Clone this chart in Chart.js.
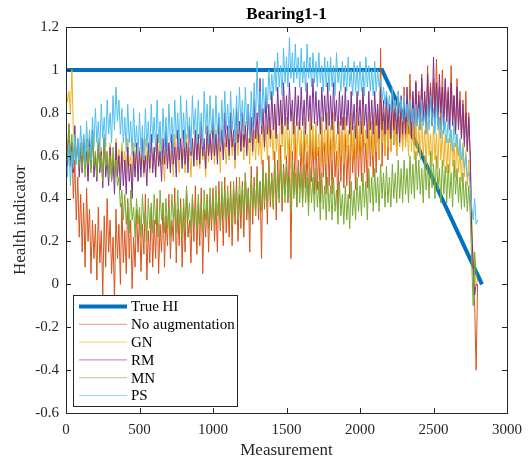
<!DOCTYPE html>
<html>
<head>
<meta charset="utf-8">
<title>Bearing1-1</title>
<script src="https://cdn.jsdelivr.net/npm/chart.js@4/dist/chart.umd.min.js"></script>
<style>
html, body { margin: 0; padding: 0; background: #fff; }
#wrap { width: 532px; height: 464px; }
</style>
</head>
<body>
<div id="wrap"><canvas id="hiChart" width="532" height="464"></canvas></div>
<script>
// x values (measurement index), read every 10 measurements
const measurement = [
    0, 10, 20, 30, 40, 50, 60, 70, 80, 90,
    100, 110, 120, 130, 140, 150, 160, 170, 180, 190,
    200, 210, 220, 230, 240, 250, 260, 270, 280, 290,
    300, 310, 320, 330, 340, 350, 360, 370, 380, 390,
    400, 410, 420, 430, 440, 450, 460, 470, 480, 490,
    500, 510, 520, 530, 540, 550, 560, 570, 580, 590,
    600, 610, 620, 630, 640, 650, 660, 670, 680, 690,
    700, 710, 720, 730, 740, 750, 760, 770, 780, 790,
    800, 810, 820, 830, 840, 850, 860, 870, 880, 890,
    900, 910, 920, 930, 940, 950, 960, 970, 980, 990,
    1000, 1010, 1020, 1030, 1040, 1050, 1060, 1070, 1080, 1090,
    1100, 1110, 1120, 1130, 1140, 1150, 1160, 1170, 1180, 1190,
    1200, 1210, 1220, 1230, 1240, 1250, 1260, 1270, 1280, 1290,
    1300, 1310, 1320, 1330, 1340, 1350, 1360, 1370, 1380, 1390,
    1400, 1410, 1420, 1430, 1440, 1450, 1460, 1470, 1480, 1490,
    1500, 1510, 1520, 1530, 1540, 1550, 1560, 1570, 1580, 1590,
    1600, 1610, 1620, 1630, 1640, 1650, 1660, 1670, 1680, 1690,
    1700, 1710, 1720, 1730, 1740, 1750, 1760, 1770, 1780, 1790,
    1800, 1810, 1820, 1830, 1840, 1850, 1860, 1870, 1880, 1890,
    1900, 1910, 1920, 1930, 1940, 1950, 1960, 1970, 1980, 1990,
    2000, 2010, 2020, 2030, 2040, 2050, 2060, 2070, 2080, 2090,
    2100, 2110, 2120, 2130, 2140, 2150, 2160, 2170, 2180, 2190,
    2200, 2210, 2220, 2230, 2240, 2250, 2260, 2270, 2280, 2290,
    2300, 2310, 2320, 2330, 2340, 2350, 2360, 2370, 2380, 2390,
    2400, 2410, 2420, 2430, 2440, 2450, 2460, 2470, 2480, 2490,
    2500, 2510, 2520, 2530, 2540, 2550, 2560, 2570, 2580, 2590,
    2600, 2610, 2620, 2630, 2640, 2650, 2660, 2670, 2680, 2690,
    2700, 2710, 2720, 2730, 2740, 2750, 2760, 2770, 2780, 2790,
    2800
];

// true health indicator (piecewise line)
const trueX = [0, 2150, 2830];
const trueY = [1, 1, 0];

const noAug = [
    0.70, 0.62, 0.75, 0.55, 0.66, 0.40, 0.58, 0.30, 0.50, 0.22,
    0.42, 0.15, 0.38, 0.08, 0.45, 0.20, 0.35, 0.05, 0.30, 0.12,
    0.28, 0.02, 0.36, 0.10, 0.25, -0.05, 0.32, 0.08, 0.40, 0.15,
    0.30, 0.05, 0.22, -0.08, 0.35, 0.12, 0.28, 0.00, 0.38, 0.10,
    0.25, 0.05, 0.40, 0.12, 0.30, -0.02, 0.22, 0.08, 0.35, 0.15,
    0.32, 0.06, 0.28, 0.14, 0.42, 0.02, 0.25, 0.10, 0.36, 0.08,
    0.30, 0.12, 0.40, 0.05, 0.28, 0.15, 0.38, 0.08, 0.32, 0.18,
    0.42, 0.12, 0.30, 0.20, 0.45, 0.10, 0.35, 0.18, 0.40, 0.08,
    0.36, 0.15, 0.44, 0.22, 0.30, 0.10, 0.40, 0.20, 0.46, 0.14,
    0.38, 0.18, 0.45, 0.05, 0.35, 0.22, 0.42, 0.15, 0.40, 0.25,
    0.45, 0.20, 0.38, 0.15, 0.48, 0.25, 0.42, 0.18, 0.50, 0.24,
    0.40, 0.22, 0.48, 0.18, 0.44, 0.28, 0.50, 0.20, 0.42, 0.26,
    0.48, 0.22, 0.52, 0.30, 0.45, 0.15, 0.55, 0.28, 0.50, 0.32,
    0.55, 0.30, 0.48, 0.12, 0.58, 0.35, 0.52, 0.28, 0.60, 0.36,
    0.52, 0.35, 0.62, 0.30, 0.58, 0.40, 0.65, 0.34, 0.56, 0.42,
    0.60, 0.38, 0.68, 0.12, 0.62, 0.42, 0.70, 0.36, 0.58, 0.45,
    0.66, 0.40, 0.72, 0.45, 0.62, 0.38, 0.75, 0.48, 0.68, 0.42,
    0.70, 0.44, 0.64, 0.38, 0.74, 0.50, 0.66, 0.42, 0.72, 0.46,
    0.68, 0.42, 0.76, 0.50, 0.62, 0.35, 0.72, 0.48, 0.78, 0.45,
    0.70, 0.46, 0.65, 0.40, 0.76, 0.52, 0.68, 0.44, 0.74, 0.50,
    0.72, 0.48, 0.78, 0.52, 0.66, 0.45, 0.80, 0.55, 0.70, 0.50,
    0.76, 0.52, 0.82, 0.58, 1.10, 0.55, 0.80, 0.60, 0.85, 0.58,
    0.82, 0.62, 0.88, 0.65, 0.80, 0.60, 0.90, 0.68, 0.85, 0.64,
    0.92, 0.66, 0.86, 0.70, 0.98, 0.72, 0.88, 0.65, 0.95, 0.74,
    0.90, 0.72, 0.98, 0.76, 0.88, 0.70, 1.02, 0.78, 0.94, 0.74,
    0.96, 0.75, 1.05, 0.80, 0.92, 0.72, 1.00, 0.78, 0.95, 0.76,
    0.92, 0.72, 1.02, 0.76, 0.88, 0.70, 0.96, 0.74, 0.90, 0.68,
    0.86, 0.64, 0.90, 0.62, 0.80, 0.58, 0.25, 0.05, -0.10, -0.40,
    0.00
];

const gn = [
    0.92, 0.85, 0.90, 0.80, 1.00, 0.72, 0.65, 0.58, 0.66, 0.55,
    0.64, 0.54, 0.68, 0.56, 0.62, 0.50, 0.66, 0.58, 0.70, 0.55,
    0.62, 0.52, 0.68, 0.56, 0.64, 0.50, 0.70, 0.58, 0.62, 0.54,
    0.66, 0.55, 0.60, 0.50, 0.68, 0.56, 0.63, 0.52, 0.66, 0.57,
    0.62, 0.52, 0.68, 0.55, 0.60, 0.48, 0.66, 0.56, 0.63, 0.52,
    0.64, 0.54, 0.60, 0.50, 0.68, 0.56, 0.62, 0.52, 0.66, 0.58,
    0.62, 0.50, 0.66, 0.55, 0.70, 0.56, 0.60, 0.48, 0.64, 0.55,
    0.66, 0.54, 0.62, 0.50, 0.70, 0.58, 0.64, 0.52, 0.68, 0.56,
    0.63, 0.52, 0.70, 0.58, 0.64, 0.50, 0.68, 0.56, 0.72, 0.55,
    0.66, 0.54, 0.70, 0.58, 0.62, 0.50, 0.68, 0.57, 0.72, 0.60,
    0.66, 0.56, 0.72, 0.58, 0.68, 0.52, 0.74, 0.60, 0.66, 0.56,
    0.70, 0.58, 0.74, 0.60, 0.68, 0.54, 0.72, 0.60, 0.76, 0.62,
    0.70, 0.58, 0.76, 0.62, 0.68, 0.56, 0.78, 0.60, 0.72, 0.58,
    0.76, 0.60, 0.70, 0.56, 0.80, 0.62, 0.74, 0.58, 0.78, 0.64,
    0.72, 0.58, 0.82, 0.62, 0.70, 0.55, 0.86, 0.64, 0.74, 0.58,
    0.78, 0.60, 0.72, 0.54, 0.80, 0.62, 0.74, 0.58, 0.76, 0.60,
    0.72, 0.56, 0.78, 0.62, 0.70, 0.54, 0.80, 0.60, 0.74, 0.58,
    0.76, 0.60, 0.70, 0.55, 0.78, 0.62, 0.72, 0.56, 0.80, 0.60,
    0.74, 0.58, 0.80, 0.62, 0.70, 0.54, 0.76, 0.60, 0.72, 0.56,
    0.78, 0.62, 0.72, 0.56, 0.80, 0.60, 0.74, 0.58, 0.82, 0.62,
    0.76, 0.60, 0.82, 0.64, 0.72, 0.58, 0.80, 0.62, 0.76, 0.60,
    0.80, 0.62, 0.74, 0.58, 0.82, 0.66, 0.76, 0.60, 0.84, 0.64,
    0.78, 0.62, 0.84, 0.66, 0.76, 0.60, 0.82, 0.64, 0.78, 0.62,
    0.82, 0.64, 0.76, 0.60, 0.80, 0.62, 0.74, 0.58, 0.78, 0.60,
    0.74, 0.58, 0.78, 0.60, 0.72, 0.56, 0.76, 0.60, 0.70, 0.55,
    0.74, 0.58, 0.70, 0.54, 0.76, 0.58, 0.72, 0.55, 0.70, 0.52,
    0.68, 0.52, 0.72, 0.55, 0.66, 0.50, 0.70, 0.52, 0.64, 0.48,
    0.66, 0.50, 0.62, 0.46, 0.58, 0.44, 0.30, 0.10, 0.05, 0.00,
    0.02
];

const rm = [
    0.62, 0.55, 0.72, 0.58, 0.66, 0.52, 0.74, 0.56, 0.68, 0.50,
    0.64, 0.52, 0.70, 0.55, 0.62, 0.48, 0.68, 0.54, 0.72, 0.50,
    0.60, 0.48, 0.66, 0.52, 0.62, 0.45, 0.68, 0.50, 0.58, 0.46,
    0.64, 0.48, 0.58, 0.42, 0.66, 0.50, 0.60, 0.44, 0.62, 0.46,
    0.58, 0.42, 0.64, 0.48, 0.56, 0.40, 0.62, 0.50, 0.66, 0.48,
    0.62, 0.50, 0.68, 0.52, 0.60, 0.46, 0.66, 0.54, 0.70, 0.52,
    0.64, 0.50, 0.70, 0.55, 0.62, 0.48, 0.68, 0.56, 0.72, 0.54,
    0.66, 0.52, 0.70, 0.56, 0.64, 0.50, 0.72, 0.58, 0.68, 0.54,
    0.72, 0.56, 0.66, 0.52, 0.74, 0.60, 0.68, 0.55, 0.72, 0.58,
    0.70, 0.56, 0.76, 0.60, 0.68, 0.54, 0.74, 0.60, 0.70, 0.58,
    0.76, 0.60, 0.70, 0.56, 0.78, 0.62, 0.72, 0.58, 0.80, 0.64,
    0.74, 0.60, 0.80, 0.64, 0.72, 0.58, 0.82, 0.66, 0.76, 0.62,
    0.80, 0.64, 0.74, 0.60, 0.84, 0.66, 0.78, 0.62, 0.86, 0.68,
    0.80, 0.66, 0.96, 0.70, 0.82, 0.64, 0.88, 0.70, 0.84, 0.68,
    0.90, 0.72, 0.84, 0.68, 0.92, 0.74, 0.86, 0.70, 0.94, 0.74,
    0.88, 0.72, 0.94, 0.76, 0.86, 0.70, 0.92, 0.74, 0.88, 0.72,
    0.92, 0.74, 0.86, 0.70, 0.94, 0.76, 0.88, 0.72, 0.96, 0.75,
    0.90, 0.74, 0.86, 0.70, 0.92, 0.76, 0.88, 0.72, 0.94, 0.74,
    0.88, 0.72, 0.94, 0.76, 0.86, 0.70, 0.90, 0.74, 0.88, 0.72,
    0.92, 0.74, 0.86, 0.70, 0.90, 0.72, 0.84, 0.68, 0.90, 0.74,
    0.86, 0.70, 0.92, 0.74, 0.84, 0.68, 0.90, 0.72, 0.86, 0.70,
    0.90, 0.74, 0.84, 0.68, 0.92, 0.72, 0.86, 0.70, 0.88, 0.72,
    0.84, 0.68, 0.90, 0.72, 0.86, 0.70, 0.82, 0.66, 0.88, 0.70,
    0.86, 0.70, 0.92, 0.74, 0.84, 0.68, 0.90, 0.72, 0.94, 0.74,
    0.88, 0.72, 0.96, 0.76, 0.90, 0.74, 0.98, 0.78, 0.92, 0.74,
    1.06, 0.78, 0.94, 0.74, 0.98, 0.80, 0.92, 0.72, 0.96, 0.76,
    0.90, 0.72, 0.94, 0.74, 0.88, 0.70, 0.92, 0.72, 0.86, 0.68,
    0.84, 0.66, 0.80, 0.62, 0.78, 0.60, 0.25, 0.10, -0.05, 0.00,
    0.00
];

const mn = [
    0.66, 0.58, 0.74, 0.60, 0.70, 0.56, 0.68, 0.58, 0.64, 0.55,
    0.66, 0.54, 0.62, 0.50, 0.68, 0.56, 0.64, 0.52, 0.70, 0.55,
    0.62, 0.50, 0.66, 0.54, 0.60, 0.48, 0.68, 0.55, 0.62, 0.50,
    0.60, 0.48, 0.64, 0.52, 0.58, 0.46, 0.50, 0.36, 0.44, 0.30,
    0.42, 0.28, 0.38, 0.24, 0.44, 0.30, 0.36, 0.22, 0.40, 0.28,
    0.36, 0.22, 0.42, 0.28, 0.34, 0.20, 0.40, 0.26, 0.38, 0.24,
    0.42, 0.28, 0.36, 0.22, 0.44, 0.30, 0.38, 0.24, 0.40, 0.26,
    0.36, 0.22, 0.42, 0.30, 0.38, 0.24, 0.44, 0.28, 0.36, 0.22,
    0.40, 0.26, 0.46, 0.30, 0.38, 0.24, 0.42, 0.28, 0.36, 0.25,
    0.42, 0.28, 0.38, 0.24, 0.44, 0.30, 0.40, 0.26, 0.45, 0.30,
    0.40, 0.28, 0.46, 0.32, 0.42, 0.26, 0.48, 0.32, 0.44, 0.30,
    0.46, 0.32, 0.42, 0.28, 0.48, 0.34, 0.44, 0.30, 0.50, 0.34,
    0.46, 0.32, 0.52, 0.36, 0.44, 0.30, 0.50, 0.36, 0.46, 0.32,
    0.52, 0.36, 0.48, 0.34, 0.54, 0.38, 0.50, 0.35, 0.56, 0.40,
    0.50, 0.36, 0.56, 0.40, 0.52, 0.38, 0.58, 0.40, 0.54, 0.38,
    0.56, 0.40, 0.50, 0.34, 0.58, 0.40, 0.52, 0.36, 0.55, 0.38,
    0.52, 0.36, 0.56, 0.38, 0.50, 0.32, 0.54, 0.38, 0.50, 0.34,
    0.54, 0.36, 0.48, 0.30, 0.52, 0.35, 0.46, 0.30, 0.50, 0.34,
    0.46, 0.30, 0.50, 0.34, 0.44, 0.28, 0.48, 0.32, 0.42, 0.28,
    0.46, 0.30, 0.42, 0.26, 0.48, 0.32, 0.44, 0.30, 0.50, 0.34,
    0.46, 0.32, 0.52, 0.36, 0.48, 0.30, 0.54, 0.38, 0.50, 0.34,
    0.54, 0.38, 0.50, 0.34, 0.56, 0.40, 0.52, 0.36, 0.55, 0.38,
    0.50, 0.36, 0.56, 0.40, 0.52, 0.38, 0.58, 0.40, 0.54, 0.38,
    0.58, 0.42, 0.54, 0.38, 0.60, 0.42, 0.56, 0.40, 0.62, 0.44,
    0.58, 0.42, 0.54, 0.38, 0.60, 0.44, 0.56, 0.40, 0.62, 0.45,
    0.56, 0.40, 0.60, 0.44, 0.54, 0.38, 0.58, 0.42, 0.55, 0.38,
    0.56, 0.40, 0.52, 0.36, 0.58, 0.42, 0.54, 0.38, 0.50, 0.35,
    0.52, 0.36, 0.48, 0.34, 0.46, 0.32, 0.10, -0.10, 0.15, 0.05,
    0.02
];

const ps = [
    0.60, 0.50, 0.66, 0.46, 0.62, 0.54, 0.70, 0.56, 0.68, 0.58,
    0.74, 0.60, 0.70, 0.56, 0.76, 0.62, 0.72, 0.58, 0.78, 0.64,
    0.82, 0.66, 0.76, 0.62, 0.84, 0.68, 0.78, 0.64, 0.86, 0.70,
    0.80, 0.66, 0.88, 0.72, 0.92, 0.76, 0.86, 0.70, 0.82, 0.66,
    0.78, 0.62, 0.84, 0.66, 0.76, 0.60, 0.82, 0.64, 0.74, 0.60,
    0.80, 0.62, 0.74, 0.58, 0.82, 0.64, 0.76, 0.60, 0.84, 0.66,
    0.78, 0.62, 0.86, 0.66, 0.76, 0.60, 0.82, 0.64, 0.78, 0.62,
    0.84, 0.66, 0.78, 0.62, 0.86, 0.68, 0.80, 0.64, 0.88, 0.68,
    0.80, 0.64, 0.86, 0.68, 0.78, 0.62, 0.88, 0.70, 0.82, 0.66,
    0.86, 0.68, 0.80, 0.64, 0.90, 0.70, 0.84, 0.66, 0.88, 0.70,
    0.82, 0.66, 0.88, 0.70, 0.80, 0.64, 0.86, 0.68, 0.90, 0.72,
    0.84, 0.68, 0.90, 0.72, 0.82, 0.66, 0.88, 0.70, 0.92, 0.74,
    0.86, 0.70, 0.92, 0.74, 0.84, 0.68, 0.90, 0.72, 0.94, 0.76,
    1.04, 0.78, 0.90, 0.74, 0.96, 0.80, 0.92, 0.82, 1.00, 0.86,
    0.98, 0.88, 1.04, 0.90, 1.08, 0.92, 1.02, 0.88, 1.10, 0.94,
    1.06, 0.92, 1.15, 0.96, 1.08, 0.94, 1.12, 0.96, 1.06, 0.92,
    1.10, 0.94, 1.04, 0.90, 1.12, 0.96, 1.06, 0.92, 1.08, 0.94,
    1.04, 0.92, 1.08, 0.94, 1.02, 0.90, 1.06, 0.92, 1.04, 0.90,
    1.06, 0.92, 1.02, 0.88, 1.08, 0.94, 1.00, 0.90, 1.04, 0.92,
    1.02, 0.90, 1.06, 0.92, 1.00, 0.88, 1.04, 0.90, 1.02, 0.88,
    1.04, 0.90, 1.00, 0.88, 1.06, 0.92, 1.02, 0.90, 1.00, 0.88,
    1.04, 0.90, 1.00, 0.92, 0.96, 0.86, 0.92, 0.84, 0.90, 0.82,
    0.88, 0.80, 0.92, 0.82, 0.86, 0.78, 0.90, 0.80, 0.86, 0.76,
    0.88, 0.78, 0.84, 0.74, 0.86, 0.76, 0.82, 0.72, 0.84, 0.74,
    0.82, 0.72, 0.86, 0.74, 0.80, 0.70, 0.84, 0.72, 0.88, 0.74,
    0.82, 0.70, 0.86, 0.72, 0.78, 0.68, 0.82, 0.70, 0.76, 0.66,
    0.78, 0.66, 0.72, 0.62, 0.76, 0.64, 0.70, 0.60, 0.68, 0.58,
    0.64, 0.54, 0.60, 0.50, 0.52, 0.46, 0.36, 0.30, 0.40, 0.28,
    0.30
];

const seriesNames = ['True HI', 'No augmentation', 'GN', 'RM', 'MN', 'PS'];
const chartTitle = 'Bearing1-1';

const serif = '"Liberation Serif", "Times New Roman", serif';
const axisColor = '#262626';

function toPoints(xs, ys) {
    return ys.map((y, i) => ({ x: xs[i], y: y }));
}

function noisyLine(label, ys, rgb, order) {
    return {
        label: label,
        data: toPoints(measurement, ys),
        borderColor: 'rgb(' + rgb + ')',
        legendColor: 'rgba(' + rgb + ',0.6)',
        borderWidth: 1,
        pointRadius: 0,
        tension: 0,
        order: order
    };
}

const datasets = [
    {
        label: seriesNames[0],
        data: toPoints(trueX, trueY),
        borderColor: '#0072BD',
        legendColor: '#0072BD',
        borderWidth: 4,
        pointRadius: 0,
        order: 5
    },
    noisyLine(seriesNames[1], noAug, '217,83,25', 4),
    noisyLine(seriesNames[2], gn, '237,177,32', 3),
    noisyLine(seriesNames[3], rm, '126,47,142', 2),
    noisyLine(seriesNames[4], mn, '119,172,48', 1),
    noisyLine(seriesNames[5], ps, '77,190,238', 0)
];

// box, inward ticks, title and legend drawn the MATLAB way
const matlabFrame = {
    id: 'matlabFrame',
    afterDraw(chart) {
        const ctx = chart.ctx;
        const a = chart.chartArea;
        const xs = chart.scales.x;
        const ys = chart.scales.y;
        ctx.save();
        ctx.strokeStyle = axisColor;
        ctx.lineWidth = 1;
        ctx.beginPath();
        xs.ticks.forEach(t => {
            const px = Math.round(xs.getPixelForValue(t.value)) + 0.5;
            ctx.moveTo(px, a.bottom); ctx.lineTo(px, a.bottom - 5);
            ctx.moveTo(px, a.top); ctx.lineTo(px, a.top + 5);
        });
        ys.ticks.forEach(t => {
            const py = Math.round(ys.getPixelForValue(t.value)) + 0.5;
            ctx.moveTo(a.left, py); ctx.lineTo(a.left + 5, py);
            ctx.moveTo(a.right, py); ctx.lineTo(a.right - 5, py);
        });
        ctx.stroke();
        ctx.strokeRect(Math.round(a.left) + 0.5, Math.round(a.top) + 0.5,
            Math.round(a.right - a.left), Math.round(a.bottom - a.top));

        // title
        ctx.fillStyle = '#000';
        ctx.font = 'bold 17px ' + serif;
        ctx.textAlign = 'center';
        ctx.textBaseline = 'middle';
        ctx.fillText(chartTitle, (a.left + a.right) / 2, 15);

        // legend, bottom-left inside the axes
        const lx = 73, ly = 295, lw = 164, lh = 111;
        ctx.fillStyle = '#fff';
        ctx.fillRect(lx, ly, lw, lh);
        ctx.strokeStyle = axisColor;
        ctx.strokeRect(lx + 0.5, ly + 0.5, lw, lh);
        ctx.font = '15px ' + serif;
        ctx.textAlign = 'left';
        chart.data.datasets.forEach((ds, i) => {
            const y = ly + 11.5 + i * 17.8;
            ctx.strokeStyle = ds.legendColor;
            ctx.lineWidth = ds.borderWidth;
            ctx.beginPath();
            ctx.moveTo(lx + 6, y);
            ctx.lineTo(lx + 54, y);
            ctx.stroke();
            ctx.fillStyle = '#000';
            ctx.fillText(ds.label, lx + 58, y + 1);
        });
        ctx.restore();
    }
};

const chart = new Chart(document.getElementById('hiChart'), {
    type: 'line',
    data: { datasets: datasets },
    options: {
        responsive: false,
        animation: false,
        devicePixelRatio: 1,
        layout: { padding: { top: 27, right: 25, left: 0, bottom: 0 } },
        plugins: {
            legend: { display: false },
            title: { display: false },
            tooltip: { enabled: false }
        },
        scales: {
            x: {
                type: 'linear',
                min: 0,
                max: 3000,
                border: { display: false },
                grid: { display: false, drawTicks: false },
                ticks: {
                    stepSize: 500,
                    padding: 8,
                    color: axisColor,
                    maxRotation: 0,
                    font: { family: serif, size: 15 },
                    callback: v => String(v)
                },
                title: {
                    display: true,
                    text: 'Measurement',
                    color: axisColor,
                    font: { family: serif, size: 17 },
                    padding: { top: 0, bottom: 3 }
                },
                afterFit(scale) { scale.height = 51; }
            },
            y: {
                min: -0.6,
                max: 1.2,
                border: { display: false },
                grid: { display: false, drawTicks: false },
                ticks: {
                    stepSize: 0.2,
                    padding: 7,
                    color: axisColor,
                    font: { family: serif, size: 15 },
                    callback: v => String(Math.round(v * 10) / 10)
                },
                title: {
                    display: true,
                    text: 'Health indicator',
                    color: axisColor,
                    font: { family: serif, size: 17 },
                    padding: { top: 10, bottom: 0 }
                },
                afterFit(scale) { scale.width = 66; }
            }
        }
    },
    plugins: [matlabFrame]
});
</script>
</body>
</html>
